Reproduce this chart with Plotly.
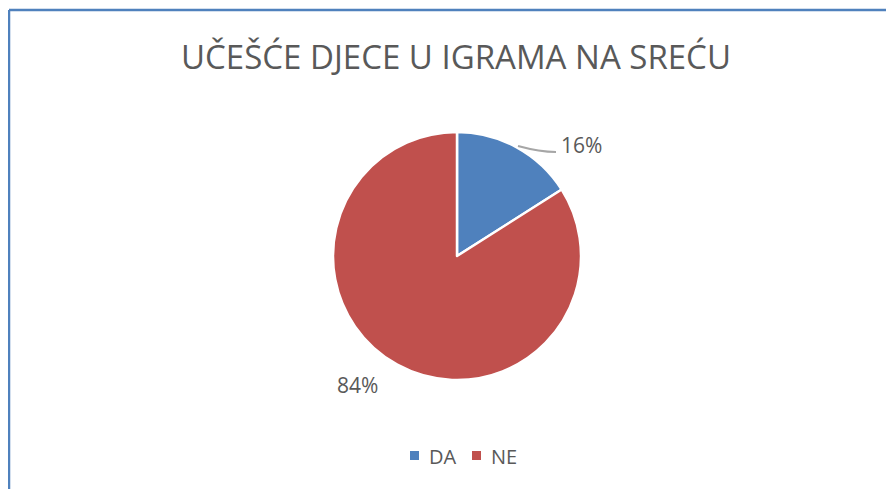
import plotly.graph_objects as go

categories = ["DA", "NE"]
values = [16, 84]
colors = ["#4F81BD", "#C0504D"]
title_text = "UČEŠĆE DJECE U IGRAMA NA SREĆU"

W, H = 894, 489
OFF = 8  # page body margin
total = sum(values)
pct = [f"{round(v / total * 100)}%" for v in values]


def px(x):
    return (x - OFF) / W


def py(y):
    return 1 - (y - OFF) / H


fig = go.Figure()
fig.add_trace(go.Pie(
    labels=categories,
    values=values,
    marker=dict(colors=colors, line=dict(color="white", width=2.5)),
    sort=False,
    direction="clockwise",
    rotation=0,
    textinfo="none",
    hoverinfo="label+percent",
    domain=dict(x=[px(457 - 124), px(457 + 124)], y=[py(256 + 124), py(256 - 124)]),
    showlegend=False,
))

font_col = "#595959"
fam = "Open Sans, Calibri, sans-serif"

fig.add_annotation(x=px(559), y=py(145), xref="paper", yref="paper", text=pct[0],
                   showarrow=False, xanchor="left", yanchor="middle",
                   font=dict(family=fam, size=21, color=font_col))
fig.add_annotation(x=px(357), y=py(385), xref="paper", yref="paper", text=pct[1],
                   showarrow=False, xanchor="center", yanchor="middle",
                   font=dict(family=fam, size=21, color=font_col))

# leader line
fig.add_shape(type="path", xref="paper", yref="paper",
              path=f"M {px(518)},{py(146)} Q {px(540)},{py(152)} {px(556)},{py(152)}",
              line=dict(color="#A6A6A6", width=2))

# legend (drawn manually to match spacing)
leg_x = [410, 472]
for i, (cat, col) in enumerate(zip(categories, colors)):
    x0 = leg_x[i]
    fig.add_shape(type="rect", xref="paper", yref="paper",
                  x0=px(x0), x1=px(x0 + 9), y0=py(460), y1=py(451),
                  fillcolor=col, line=dict(width=0))
    fig.add_annotation(x=px(x0 + 17), y=py(456), xref="paper", yref="paper", text=cat,
                       showarrow=False, xanchor="left", yanchor="middle",
                       font=dict(family=fam, size=20, color=font_col))

# chart border (left and top edges)
fig.add_shape(type="line", xref="paper", yref="paper", x0=px(9), x1=px(9), y0=-0.1, y1=py(10),
              line=dict(color="#4F81BD", width=2.5))
fig.add_shape(type="line", xref="paper", yref="paper", x0=px(9), x1=1.1, y0=py(10), y1=py(10),
              line=dict(color="#4F81BD", width=2.5))

fig.update_layout(
    width=W, height=H,
    margin=dict(l=0, r=0, t=0, b=0),
    paper_bgcolor="white", plot_bgcolor="white",
    showlegend=False,
    title=dict(text=title_text, x=px(456), xanchor="center", y=py(57), yanchor="middle",
               font=dict(family=fam, size=33, color=font_col)),
)

fig.write_html("out.html")
